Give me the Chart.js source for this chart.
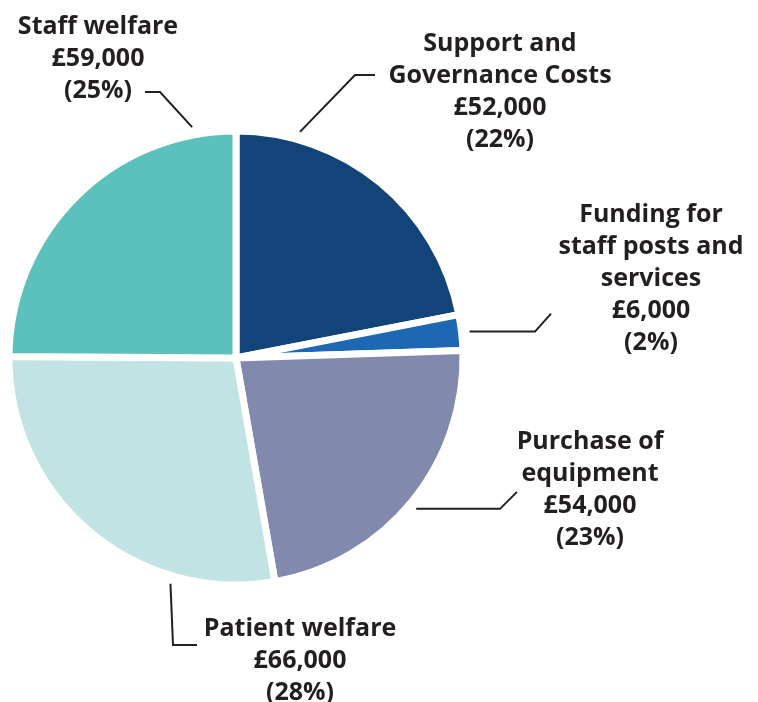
<!DOCTYPE html>
<html>
<head>
<meta charset="utf-8">
<script src="https://cdn.jsdelivr.net/npm/chart.js@4.4.1/dist/chart.umd.min.js"></script>
<style>
    html, body { margin: 0; padding: 0; background: #fff; }
    canvas { display: block; }
</style>
</head>
<body>
<canvas id="pieChart" width="758" height="702"></canvas>
<script>
// 資料
const categories = ['Support and Governance Costs', 'Funding for staff posts and services', 'Purchase of equipment', 'Patient welfare', 'Staff welfare'];
const amounts = [52000, 6000, 54000, 66000, 59000];
const percentLabels = ['22%', '2%', '23%', '28%', '25%'];
const sliceColors = ['#134479', '#1d67b3', '#8189ad', '#c2e3e3', '#5cc1bd'];

// label text lines (name part), centre x, first line y, where the leader leaves the slice
const labelLayout = [
    { lines: ['Support and', 'Governance Costs'], x: 500, y: 44, at: 0.2, path: [[355, 75], [375, 75]] },
    { lines: ['Funding for', 'staff posts and', 'services'], x: 651, y: 215, at: 0.5, flat: 535, rise: [16, -18] },
    { lines: ['Purchase of', 'equipment'], x: 590, y: 442, at: 0.51, flat: 500, rise: [17, -17] },
    { lines: ['Patient welfare'], x: 300, y: 629, at: 0.26, path: [[173, 645], [197, 645]] },
    { lines: ['Staff welfare'], x: 98, y: 27, at: 0.88, path: [[160, 92], [145, 92]] }
];

const textColor = '#231f20';
const lineHeight = 32;

function formatPounds(v) {
    return '£' + v.toLocaleString('en-GB');
}

// 繪製標籤與引線
const labelPlugin = {
    id: 'pieLabels',
    afterDraw(chart) {
        const ctx = chart.ctx;
        const arcs = chart.getDatasetMeta(0).data;
        ctx.save();
        ctx.strokeStyle = textColor;
        ctx.lineWidth = 2;
        ctx.fillStyle = textColor;
        ctx.font = 'bold 25px "Open Sans"';
        ctx.textAlign = 'center';
        ctx.textBaseline = 'middle';

        arcs.forEach((arc, i) => {
            const lay = labelLayout[i];
            const p = arc.getProps(['x', 'y', 'startAngle', 'endAngle', 'outerRadius'], true);
            const a = p.startAngle + lay.at * (p.endAngle - p.startAngle);
            const r = p.outerRadius + 8;
            const ax = p.x + r * Math.cos(a);
            const ay = p.y + r * Math.sin(a);

            ctx.beginPath();
            ctx.moveTo(ax, ay);
            if (lay.path) {
                lay.path.forEach(pt => ctx.lineTo(pt[0], pt[1]));
            } else {
                ctx.lineTo(lay.flat, ay);
                ctx.lineTo(lay.flat + lay.rise[0], ay + lay.rise[1]);
            }
            ctx.stroke();

            const lines = lay.lines.concat([formatPounds(amounts[i]), '(' + percentLabels[i] + ')']);
            lines.forEach((t, k) => {
                ctx.fillText(t, lay.x, lay.y + k * lineHeight);
            });
        });
        ctx.restore();
    }
};

const ctx = document.getElementById('pieChart').getContext('2d');
new Chart(ctx, {
    type: 'pie',
    data: {
        labels: categories,
        datasets: [{
            data: amounts,
            backgroundColor: sliceColors,
            borderColor: '#ffffff',
            borderWidth: 7,
            clip: false
        }]
    },
    options: {
        responsive: false,
        animation: false,
        events: [],
        radius: 227,
        layout: {
            padding: { left: 10, right: 296, top: 132, bottom: 118 }
        },
        plugins: {
            legend: { display: false },
            tooltip: { enabled: false }
        }
    },
    plugins: [labelPlugin]
});
</script>
</body>
</html>
